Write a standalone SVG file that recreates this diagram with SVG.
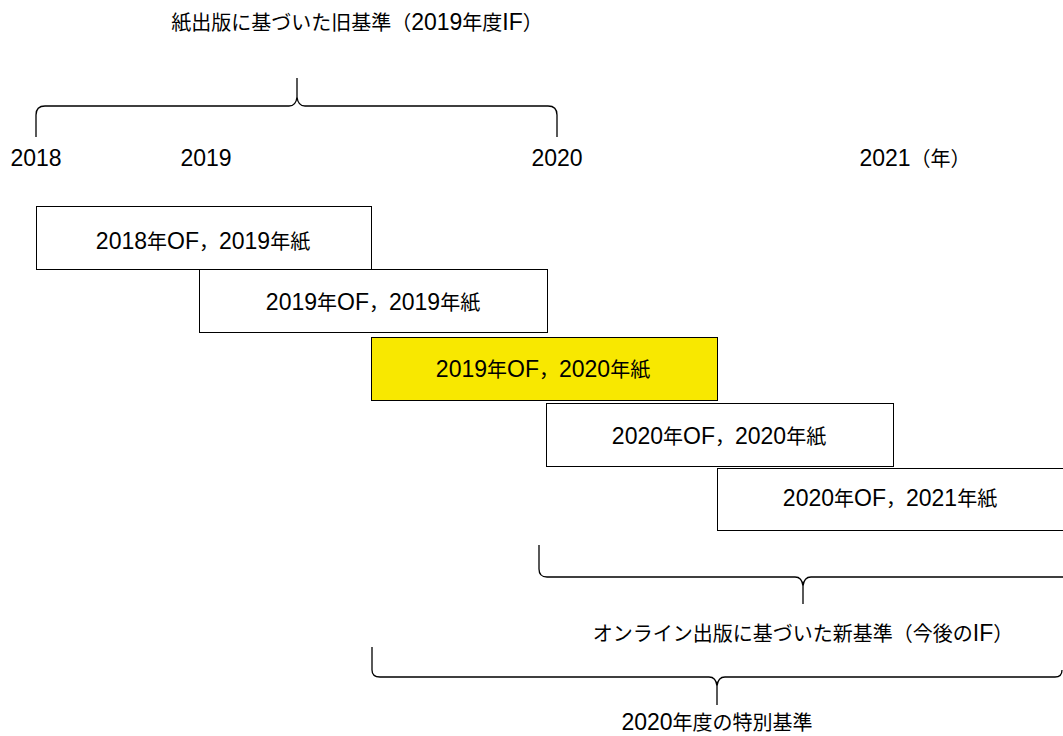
<svg xmlns="http://www.w3.org/2000/svg" width="1063" height="736" viewBox="0 0 1063 736">
<style>
text{font-family:"Liberation Sans","Noto Sans CJK JP",sans-serif;font-size:20px;fill:#000;text-anchor:middle}
.l{font-size:23px}
.box{fill:#fff;stroke:#000;stroke-width:1}
.hl{fill:#f8e800;stroke:#000;stroke-width:1}
.brace{fill:none;stroke:#000;stroke-width:1.3}
</style>
<rect width="1063" height="736" fill="#fff"/>
<g id="labels">
<text x="357" y="30">紙出版に基づいた旧基準（<tspan class="l">2019</tspan>年度<tspan class="l">IF</tspan>）</text>
<text x="36" y="166"><tspan class="l">2018</tspan></text>
<text x="206" y="166"><tspan class="l">2019</tspan></text>
<text x="557" y="166"><tspan class="l">2020</tspan></text>
<text x="915" y="166"><tspan class="l">2021</tspan>（年）</text>
<text x="803" y="641">オンライン出版に基づいた新基準（今後の<tspan class="l">IF</tspan>）</text>
<text x="717" y="730"><tspan class="l">2020</tspan>年度の特別基準</text>
</g>
<g id="connectors">
<path class="brace" d="M36,137 L36,115 Q36,106 45,106 L289,106 Q296,106 297,97 L297,78 M297,97 Q298,106 305,106 L548,106 Q557,106 557,115 L557,137"/>
<path class="brace" d="M539,545 L539,569 Q539,577 547,577 L795,577 Q802,577 803,586 L803,604 M803,586 Q804,577 811,577 L1070,577"/>
<path class="brace" d="M372,647 L372,670 Q372,677 380,677 L709,677 Q716,677 717,686 L717,705 M717,686 Q718,677 725,677 L1055,677 Q1062,677 1062,670"/>
</g>
<g id="n1"><rect class="box" x="36.500" y="206.500" width="335" height="63"/><text x="203" y="249"><tspan class="l">2018</tspan>年<tspan class="l">OF</tspan>，<tspan class="l">2019</tspan>年紙</text></g>
<g id="n2"><rect class="box" x="199.500" y="269.500" width="348" height="63"/><text x="373" y="310"><tspan class="l">2019</tspan>年<tspan class="l">OF</tspan>，<tspan class="l">2019</tspan>年紙</text></g>
<g id="n3"><rect class="hl" x="371.500" y="337.500" width="346" height="63"/><text x="543" y="377"><tspan class="l">2019</tspan>年<tspan class="l">OF</tspan>，<tspan class="l">2020</tspan>年紙</text></g>
<g id="n4"><rect class="box" x="546.500" y="403.500" width="347" height="63"/><text x="719" y="444"><tspan class="l">2020</tspan>年<tspan class="l">OF</tspan>，<tspan class="l">2020</tspan>年紙</text></g>
<g id="n5"><rect class="box" x="717.500" y="468.500" width="350" height="62"/><text x="890" y="506"><tspan class="l">2020</tspan>年<tspan class="l">OF</tspan>，<tspan class="l">2021</tspan>年紙</text></g>
</svg>
